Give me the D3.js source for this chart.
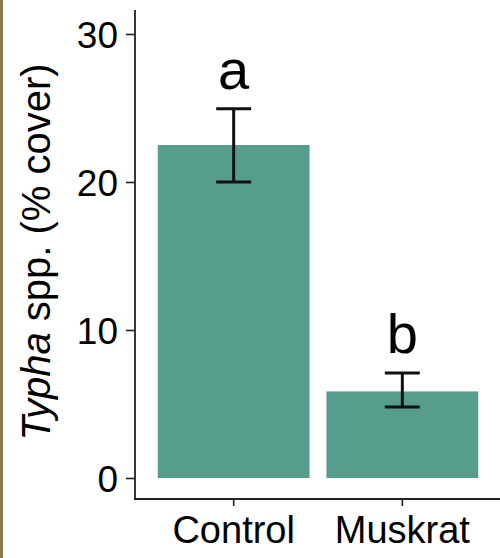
<!DOCTYPE html>
<html>
<head>
<meta charset="utf-8">
<script src="https://cdn.jsdelivr.net/npm/d3@7"></script>
<style>
  body { margin: 0; background: #fff; }
  svg text { font-family: "Liberation Sans", Arial, sans-serif; fill: #000; }
</style>
</head>
<body>
<svg id="chart" width="500" height="558"></svg>
<script>
// data
var categories = ["Control", "Muskrat"];
var means = [22.5, 5.85];
var lower = [20.0, 4.8];
var upper = [24.95, 7.1];
var letters = ["a", "b"];
var yTicks = [0, 10, 20, 30];

var svg = d3.select("#chart");

// thin brownish strip on the left edge of the scan
svg.append("rect")
	.attr("x", 0).attr("y", 0)
	.attr("width", 3).attr("height", 558)
	.attr("fill", "#8c7a4e");

var x = d3.scaleBand()
	.domain(categories)
	.range([135, 501])
	.paddingInner(0.1)
	.paddingOuter(0.135);

var y = d3.scaleLinear()
	.domain([0, 30])
	.range([478, 34]);

// bars
svg.selectAll("rect.bar")
	.data(categories)
	.enter()
	.append("rect")
		.attr("class", "bar")
		.attr("x", function(d) {return x(d);})
		.attr("width", x.bandwidth())
		.attr("y", function(d, i) {return y(means[i]);})
		.attr("height", function(d, i) {return y(0) - y(means[i]);})
		.attr("fill", "#569e8b");

// error bars
var capW = 35;
var err = svg.selectAll("g.err")
	.data(categories)
	.enter()
	.append("g")
		.attr("class", "err")
		.attr("stroke", "#111")
		.attr("stroke-width", 3);

err.append("line")
	.attr("x1", function(d) {return x(d) + x.bandwidth() / 2;})
	.attr("x2", function(d) {return x(d) + x.bandwidth() / 2;})
	.attr("y1", function(d, i) {return y(lower[i]);})
	.attr("y2", function(d, i) {return y(upper[i]);});

err.append("line")
	.attr("x1", function(d) {return x(d) + x.bandwidth() / 2 - capW / 2;})
	.attr("x2", function(d) {return x(d) + x.bandwidth() / 2 + capW / 2;})
	.attr("y1", function(d, i) {return y(upper[i]);})
	.attr("y2", function(d, i) {return y(upper[i]);});

err.append("line")
	.attr("x1", function(d) {return x(d) + x.bandwidth() / 2 - capW / 2;})
	.attr("x2", function(d) {return x(d) + x.bandwidth() / 2 + capW / 2;})
	.attr("y1", function(d, i) {return y(lower[i]);})
	.attr("y2", function(d, i) {return y(lower[i]);});

// significance letters
svg.selectAll("text.letter")
	.data(categories)
	.enter()
	.append("text")
		.attr("class", "letter")
		.attr("x", function(d) {return x(d) + x.bandwidth() / 2;})
		.attr("y", function(d, i) {return y(upper[i]) - 20;})
		.attr("text-anchor", "middle")
		.style("font-size", "56px")
		.text(function(d, i) {return letters[i];});

// y axis
var yAxis = svg.append("g")
	.attr("transform", "translate(135,0)")
	.call(d3.axisLeft(y).tickValues(yTicks).tickSize(9).tickPadding(8));
yAxis.select(".domain").remove();
yAxis.selectAll("line").attr("stroke", "#222").attr("stroke-width", 1.6);
yAxis.selectAll("text").style("font-size", "37px").attr("fill", "#000").attr("dy", "0.36em");

svg.append("line")
	.attr("x1", 135).attr("x2", 135)
	.attr("y1", 10).attr("y2", 500)
	.attr("stroke", "#222").attr("stroke-width", 1.8);

// x axis
var xAxis = svg.append("g")
	.attr("transform", "translate(0,499)")
	.call(d3.axisBottom(x).tickSize(7).tickPadding(10));
xAxis.select(".domain").remove();
xAxis.selectAll("line").attr("stroke", "#222").attr("stroke-width", 1.6);
xAxis.selectAll("text").style("font-size", "38px").attr("fill", "#000");

svg.append("line")
	.attr("x1", 134.1).attr("x2", 500)
	.attr("y1", 499).attr("y2", 499)
	.attr("stroke", "#222").attr("stroke-width", 1.8);

// y axis title
var title = svg.append("text")
	.attr("transform", "translate(50,252) rotate(-90)")
	.attr("text-anchor", "middle")
	.style("font-size", "40px");
title.append("tspan").style("font-style", "italic").text("Typha");
title.append("tspan").text(" spp. (% cover)");
</script>
</body>
</html>
